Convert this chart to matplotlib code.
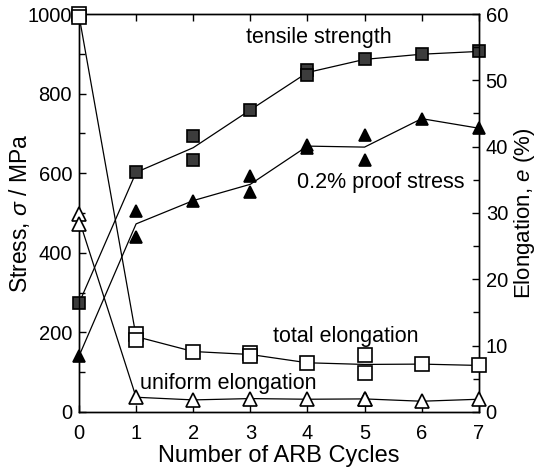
import numpy as np
import matplotlib
matplotlib.use("Agg")
import matplotlib.pyplot as plt
from matplotlib.ticker import MultipleLocator

plt.rcParams['font.family'] = ['Liberation Sans', 'DejaVu Sans']
plt.rcParams['mathtext.fontset'] = 'custom'
plt.rcParams['mathtext.it'] = 'Liberation Sans:italic'
plt.rcParams['mathtext.rm'] = 'Liberation Sans'

# ARB cycles, replicate measurements per cycle
cycles = [0, 1, 2, 3, 4, 5, 6, 7]
tensile = [[273], [602], [694, 634], [759], [860, 846], [886], [899], [906]]          # MPa
proof = [[140], [505, 440], [531], [592, 552], [672, 664], [697, 634], [737], [713]]  # MPa
total_el = [[60, 59.6], [11.8, 10.9], [9.1], [8.9, 8.4], [7.4], [8.5, 5.8], [7.2], [7.0]]  # %
uniform_el = [[29.8, 28.3], [2.2], [1.8], [2.0], [1.9], [1.9, 2.0], [1.6], [1.9]]          # %


def plot_series(ax, vals, marker, face, ms):
    mean = [np.mean(v) for v in vals]
    ax.plot(cycles, mean, '-', color='black', lw=0.9, zorder=2, clip_on=False)
    xs = [c for c, v in zip(cycles, vals) for _ in v]
    ys = [y for v in vals for y in v]
    ax.plot(xs, ys, marker, ls='none', mfc=face, mec='black', mew=1.2, ms=ms,
            zorder=3, clip_on=False)


fig = plt.figure(figsize=(5.41, 4.68), dpi=100)
ax = fig.add_axes([0.146, 0.120, 0.739, 0.850])
ax2 = ax.twinx()

plot_series(ax, tensile, 's', '#3c3c3c', 9)
plot_series(ax, proof, '^', 'black', 9)
plot_series(ax2, total_el, 's', 'white', 9.5)
plot_series(ax2, uniform_el, '^', 'white', 10)

ax.set_xlim(0, 7)
ax.set_ylim(0, 1000)
ax2.set_ylim(0, 60)
ax.xaxis.set_major_locator(MultipleLocator(1))
ax.yaxis.set_major_locator(MultipleLocator(200))
ax.yaxis.set_minor_locator(MultipleLocator(100))
ax2.yaxis.set_major_locator(MultipleLocator(10))
ax2.yaxis.set_minor_locator(MultipleLocator(5))

ax.tick_params(axis='both', which='both', direction='in', labelsize=14.5,
               top=True, width=1, length=5)
ax.tick_params(axis='y', which='minor', length=4)
ax.tick_params(axis='y', pad=5)
ax.tick_params(axis='x', pad=9)
ax2.tick_params(axis='y', which='both', direction='in', labelsize=14.5, width=1,
                length=5, pad=5)
ax2.tick_params(axis='y', which='minor', length=4)
for a in (ax, ax2):
    for s in a.spines.values():
        s.set_linewidth(1.0)

ax.set_xlabel('Number of ARB Cycles', fontsize=17, labelpad=1)
ax.set_ylabel(r'Stress, $\sigma$ / MPa', fontsize=16.5, labelpad=-3)
ax2.set_ylabel(r'Elongation, $e$ (%)', fontsize=16, labelpad=3)

ax.text(2.92, 942, 'tensile strength', fontsize=15.5, va='center')
ax.text(3.81, 576, '0.2% proof stress', fontsize=15.5, va='center')
ax.text(3.40, 189, 'total elongation', fontsize=15.5, va='center')
ax.text(1.07, 70, 'uniform elongation', fontsize=15.5, va='center')

fig.savefig('out.png', dpi=100)
